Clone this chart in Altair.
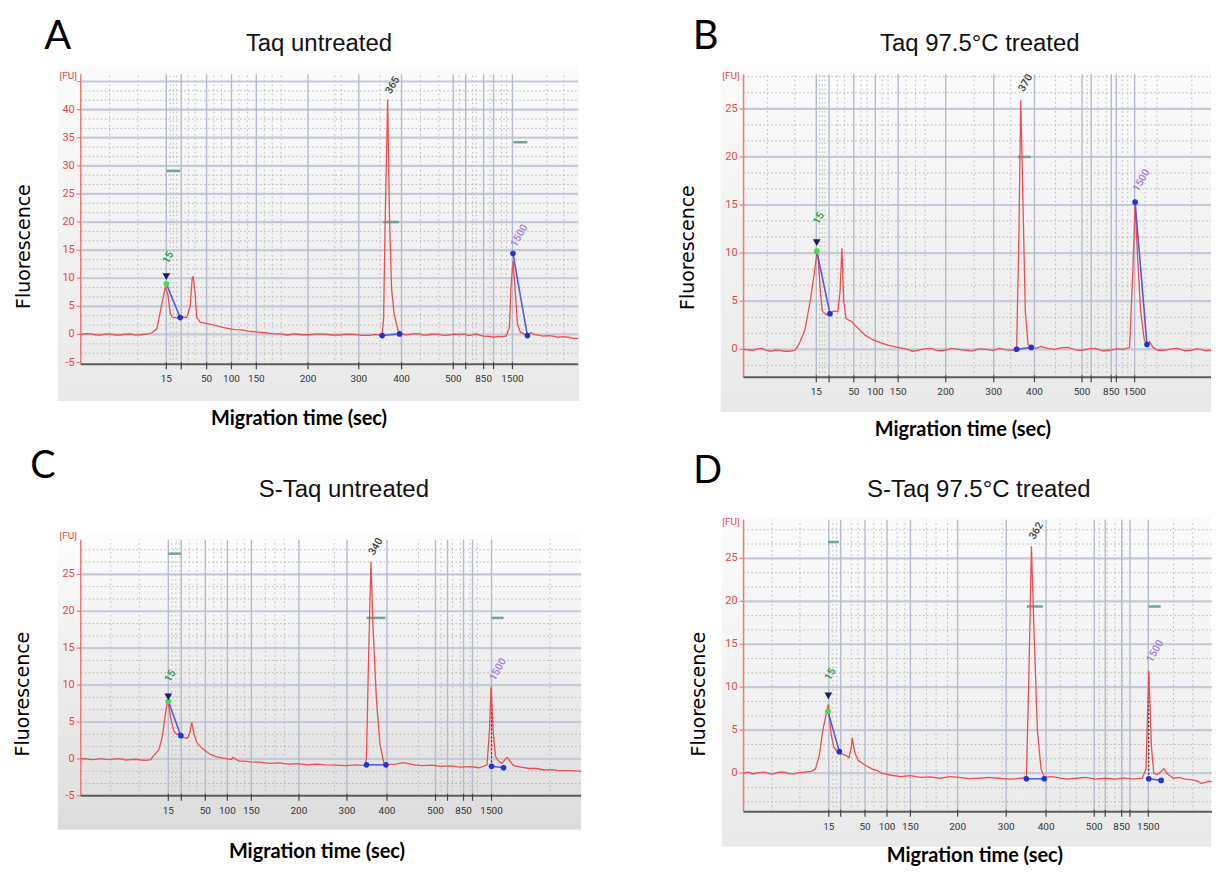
import altair as alt
import pandas as pd

LADDER = ["15", "", "50", "100", "150", "200", "300", "400", "500", "", "850", "", "1500"]

# ---------------- Panel A : Taq untreated ----------------
A_ticks = [17.2, 20.2, 25.3, 30.3, 35.3, 45.7, 55.9, 64.5, 74.9, 77.4, 81.0, 83.0, 86.8]
A_vdot = [5.8, 11.5, 18.0, 18.6, 19.3, 21.6, 23.0, 26.8, 28.3, 31.8, 33.5, 36.9, 38.5, 40.3,
          51.1, 52.4, 60.2, 68.3, 72.0, 76.1, 78.8, 79.5, 82.3, 84.6, 85.6, 93.7, 97.1]
A_trace = [(0, 0.0), (1, 0.15), (2, 0.1), (3, -0.05), (4, -0.1), (5, 0.1), (6, 0.05), (7, -0.1), (8, -0.1),
           (9, 0.05), (10, 0.1), (11, -0.1), (12, -0.05), (13.5, 0.1),
           (14.3, 0.3), (15.3, 1.0), (16.3, 5.4), (17.0, 8.4), (17.5, 7.2), (18.0, 3.7), (18.4, 3.1),
           (19.3, 2.95), (20.3, 3.1), (21.3, 3.0), (22.0, 5.1), (22.4, 9.9), (22.6, 10.4), (23.0, 7.2),
           (23.3, 3.1), (24.0, 2.2), (25.6, 1.9), (27.0, 1.6), (28.3, 1.3), (29.5, 1.1), (31.0, 0.85),
           (32.3, 0.8), (33.7, 0.6), (35.2, 0.45), (37.0, 0.3), (38.5, 0.15), (40.3, 0.05), (41.5, -0.1),
           (43.0, 0.1), (44.5, -0.05), (46.0, -0.05), (47.5, 0.1), (49.0, 0.05), (50.5, -0.1), (52.0, -0.1),
           (53.5, 0.05), (55.0, 0.0), (56.5, -0.15), (58.0, -0.15), (59.3, 0.0),
           (60.6, -0.2), (60.9, 3.0), (61.2, 20.0), (61.7, 41.8), (62.1, 20.0), (62.5, 8.0),
           (63.0, 3.7), (63.8, 0.7), (64.3, 0.2), (65.2, -0.05), (66.0, 0.0), (67.0, 0.15), (68.0, 0.1),
           (69.0, -0.1), (70.0, -0.05), (71.0, 0.1), (72.0, 0.0), (73.0, -0.15), (74.0, -0.1), (75.0, 0.05),
           (76.0, 0.0), (77.0, 0.1), (78.0, -0.2), (79.5, 0.1), (80.3, -0.15), (81.0, -0.3), (82.0, -0.35),
           (83.0, -0.5), (84.0, -0.35), (85.0, -0.4),
           (85.6, -0.2), (86.2, 1.3), (86.5, 8.4), (86.9, 13.1), (87.4, 7.2), (87.8, 1.9), (88.4, 0.4),
           (89.8, -0.2), (90.5, 0.3), (91.2, 0.0), (92.0, -0.1), (93.0, -0.3), (94.0, -0.2), (95.0, -0.3),
           (96.0, -0.5), (97.0, -0.4), (98.0, -0.5), (99.0, -0.7), (100.0, -0.7)]
A_dash = [(17.2, 20.0, 29.1), (60.8, 64.0, 20.0), (87.0, 89.8, 34.2)]
A_blue = [(17.2, 9.0, 20.0, 3.0), (60.6, -0.2, 64.1, 0.1), (86.9, 14.4, 89.8, -0.2)]
A_bdots = [(20.0, 3.0), (60.6, -0.2), (64.1, 0.1), (86.9, 14.4), (89.8, -0.2)]
A_tri = [(17.2, 10.3)]
A_green = [(17.2, 9.0)]
A_marks = []
A_plabels = [(61.7, 42.8, "365", "#3c3c3c"), (16.9, 12.6, "15", "#2e9a2e"), (86.9, 15.6, "1500", "#a878e8")]

# ---------------- Panel B : Taq 97.5°C treated ----------------
B_ticks = [15.9, 18.7, 24.1, 28.8, 33.8, 44.2, 54.7, 63.6, 74.0, 76.0, 80.4, 81.5, 85.5]
B_vdot = [5.2, 11.2, 16.6, 17.2, 17.8, 20.5, 22.1, 25.7, 27.0, 30.3, 31.6, 35.5, 37.6, 39.7,
          50.4, 58.4, 68.2, 71.6, 75.1, 77.5, 79.3, 82.8, 84.0, 87.8, 90.4, 98.0]
B_trace = [(0, 0.0), (1, -0.05), (2, -0.1), (3, 0.05), (4, 0.1), (5, -0.1), (6, -0.2), (7, -0.05), (8, -0.1),
           (9, -0.2), (10, -0.2), (11.2, -0.1), (12.1, 0.5),
           (13.4, 2.0), (14.6, 5.1), (15.5, 8.0), (16.0, 9.9), (16.3, 9.5), (16.8, 6.0), (17.2, 4.0),
           (18.0, 3.6), (18.9, 3.7), (19.7, 4.0), (20.6, 3.9), (21.1, 6.0), (21.5, 10.5), (21.9, 5.0),
           (22.4, 3.2), (23.6, 2.9), (24.8, 2.3), (26.5, 1.5), (28.2, 1.0), (29.9, 0.7), (31.7, 0.4),
           (33.8, 0.2), (35.9, 0.0), (37.0, -0.2), (38, -0.1), (39.5, 0.05), (41, 0.1), (42.5, -0.15),
           (44, -0.1), (45.5, 0.1), (47, 0.0), (48.5, -0.1), (50, -0.15), (51.5, 0.05), (53, 0.0),
           (54.5, -0.1), (56, 0.1), (57.5, -0.05), (59.3, -0.1), (59.7, 0.0), (60.2, 12.0), (60.6, 25.9),
           (61.1, 15.0), (61.6, 4.0), (62.2, 0.5), (62.9, 0.2), (64.0, 0.1), (65, 0.3), (66.5, 0.1), (68, 0.0),
           (69.5, 0.15), (71, 0.2), (72.5, -0.05), (74, -0.1), (75.5, 0.05), (77, 0.1), (78.5, -0.15),
           (80, -0.1), (81.5, 0.05), (83, 0.0), (84.4, 0.2), (85.1, 8.0), (85.6, 15.2), (86.1, 10.0),
           (86.8, 4.0), (87.6, 1.0), (88.2, 0.4), (88.8, 0.8), (89.5, 0.2), (90.5, -0.1), (92, -0.1),
           (93.5, 0.05), (95, 0.1), (96.5, -0.15), (98, -0.1), (99, 0.05), (100, 0.0), (101, -0.15), (102.2, -0.1)]
B_dash = [(59.9, 62.8, 20.0)]
B_blue = [(16.0, 10.2, 18.9, 3.7), (59.7, 0.0, 62.9, 0.2), (85.6, 15.3, 88.2, 0.5)]
B_bdots = [(18.9, 3.7), (59.7, 0.0), (62.9, 0.2), (85.6, 15.3), (88.2, 0.5)]
B_tri = [(16.0, 11.1)]
B_green = [(16.0, 10.2)]
B_marks = []
B_plabels = [(60.6, 26.8, "370", "#3c3c3c"), (15.7, 13.0, "15", "#2e9a2e"), (85.6, 16.4, "1500", "#a878e8")]

# ---------------- Panel C : S-Taq untreated ----------------
C_ticks = [17.5, 20.1, 24.9, 29.3, 34.1, 43.6, 53.2, 61.2, 70.9, 73.3, 76.5, 78.3, 82.1]
C_vdot = [6.0, 11.7, 18.2, 19.0, 19.8, 21.7, 23.2, 26.6, 28.1, 31.2, 32.7, 36.9, 38.8, 40.7,
          50.7, 67.5, 72.0, 74.3, 75.9, 77.8, 79.3, 93.8]
C_trace = [(0, 0.0), (1, 0.05), (2, -0.1), (3, -0.05), (4, 0.05), (5, -0.05), (6, -0.1), (7, 0.05), (8, 0.0),
           (9, -0.15), (10, -0.1), (11, -0.05), (12, -0.15), (13, -0.2), (14.0, -0.1),
           (14.4, 0.3), (15.6, 1.2), (16.3, 3.0), (16.9, 6.0), (17.3, 7.7), (17.5, 7.6), (18.0, 5.5),
           (18.6, 3.8), (19.2, 3.3), (19.6, 3.5), (20.0, 3.15), (20.5, 2.9), (21.3, 2.8), (21.8, 3.5),
           (22.2, 4.95), (22.6, 3.5), (23.2, 2.2), (24.3, 1.4), (25.9, 0.6), (27.0, 0.3), (28.5, 0.1),
           (30.1, -0.1), (30.4, 0.2), (31.6, -0.3), (32.8, -0.3), (33.9, -0.4), (35.8, -0.45), (37.7, -0.6),
           (39.6, -0.55), (41.5, -0.7), (43.4, -0.65), (45.3, -0.8), (47.2, -0.7), (49.0, -0.8), (51.0, -0.85),
           (53.0, -0.9), (55.0, -0.8), (56.8, -0.9), (57.1, 0.0), (57.5, 13.0), (58.0, 26.7), (58.4, 18.0),
           (59.1, 8.0), (59.8, 2.0), (60.6, -0.6), (61.0, -0.8), (62.0, -0.75), (63.0, -0.7), (64.4, -0.5),
           (65.2, -0.6), (66.7, -0.8), (68.2, -0.9), (70.1, -0.85), (72.0, -1.0), (74.0, -0.95), (75.9, -1.1),
           (77.8, -1.05), (79.7, -1.2), (81.2, -0.8), (81.7, 4.0), (82.0, 9.8),
           (82.4, 4.0), (82.9, 0.3), (83.5, -0.3), (84.2, -0.6), (84.9, 0.0), (85.2, 0.2), (85.8, -0.3),
           (86.5, -0.9), (88.0, -1.1), (89.6, -1.3), (91.1, -1.3), (92.6, -1.5), (94.1, -1.45), (95.7, -1.6),
           (97.8, -1.6), (100, -1.7)]
C_dash = [(17.5, 20.0, 27.8), (57.1, 60.9, 19.1), (82.1, 84.5, 19.1)]
C_blue = [(17.5, 7.8, 20.0, 3.15), (57.1, -0.8, 61.0, -0.8), (82.1, -1.0, 84.5, -1.2)]
C_bdots = [(20.0, 3.15), (57.1, -0.8), (61.0, -0.8), (82.1, -1.0), (84.5, -1.2)]
C_tri = [(17.5, 8.4)]
C_green = [(17.5, 7.8)]
C_marks = [(82.1, -1.0, 9.8)]
C_plabels = [(58.0, 27.6, "340", "#3c3c3c"), (17.2, 10.4, "15", "#2e9a2e"), (82.1, 10.6, "1500", "#a878e8")]

# ---------------- Panel D : S-Taq 97.5°C treated ----------------
D_ticks = [18.6, 21.2, 26.5, 31.3, 36.4, 46.7, 57.3, 66.0, 76.5, 78.9, 82.5, 84.3, 88.3]
D_vdot = [6.2, 12.3, 19.5, 20.3, 23.5, 25.0, 28.4, 30.1, 33.5, 35.2, 39.9, 42.0, 44.5,
          56.4, 69.1, 72.6, 77.6, 79.3, 81.0, 82.7, 93.8, 98.0]
D_trace = [(0, 0.0), (1, 0.1), (2, -0.1), (3.3, 0.05), (4.6, 0.1), (5.5, -0.05), (6.5, -0.1), (7.7, 0.1),
           (8.9, 0.1), (10, -0.05), (11, -0.1), (12, 0.05), (13.1, 0.1), (14.8, 0.2),
           (15.7, 0.5), (16.5, 2.0), (17.3, 5.0), (18.0, 6.8), (18.5, 8.0), (19.1, 4.5), (19.7, 3.0),
           (20.3, 2.6), (20.9, 2.5), (21.6, 2.2), (22.5, 2.0), (23.0, 1.8), (23.5, 3.0), (23.7, 4.1),
           (24.2, 2.5), (25.0, 1.5), (26.3, 1.0), (28.0, 0.5), (29.2, 0.3), (30.1, 0.0), (32.2, -0.25),
           (34.3, -0.4), (36.4, -0.3), (38.6, -0.5), (40.7, -0.45), (42.8, -0.6), (45.0, -0.4), (47.1, -0.5),
           (49.2, -0.65), (51.3, -0.6), (53.5, -0.5), (55.6, -0.6), (58.2, -0.7), (60.7, -0.6), (61.7, -0.4),
           (62.2, 10.0), (62.8, 26.4), (63.4, 16.0), (64.1, 5.0), (64.9, 0.5), (65.6, -0.5), (67.0, -0.4),
           (68.3, -0.5), (70.5, -0.7), (72.6, -0.6), (74.7, -0.5), (76.8, -0.7), (79.0, -0.6), (81.0, -0.7),
           (83.0, -0.55), (85.0, -0.7), (87.0, -0.6), (87.8, 0.5), (88.4, 11.9), (89.0, 3.0), (89.5, 0.0),
           (90.2, -0.2), (91.1, 0.2), (91.7, 0.5), (92.5, -0.1), (93.8, -0.6), (95.0, -0.5), (96.3, -0.7),
           (97.6, -0.75), (98.9, -0.9), (99.8, -1.2), (100.6, -1.1), (101.4, -0.95), (102.2, -1.0)]
D_dash = [(18.4, 20.8, 26.9), (61.8, 65.3, 19.4), (88.4, 91.0, 19.4)]
D_blue = [(18.4, 7.2, 20.9, 2.5), (61.7, -0.66, 65.6, -0.66), (88.4, -0.66, 91.1, -0.85)]
D_bdots = [(20.9, 2.5), (61.7, -0.66), (65.6, -0.66), (88.4, -0.66), (91.1, -0.85)]
D_tri = [(18.5, 9.0)]
D_green = [(18.4, 7.2)]
D_marks = [(88.4, -0.66, 11.9)]
D_plabels = [(62.8, 27.2, "362", "#3c3c3c"), (18.2, 10.8, "15", "#2e9a2e"), (88.4, 12.9, "1500", "#a878e8")]


def steps(lo, hi, step, skip_mult=None):
    out = []
    k = 0
    while True:
        v = round(lo + k * step, 3)
        if v > hi + 1e-6:
            break
        if skip_mult is None or abs(v / skip_mult - round(v / skip_mult)) > 1e-3:
            out.append(v)
        k += 1
    return out


PANELS = [
    dict(key="A", title="Taq untreated", w=499, h=291, xdom=[0, 100], ydom=[-5.3, 46.3], ytop=46.3,
         hsolid=[0, 5, 10, 15, 20, 25, 30, 35, 40, 45], hdot=steps(-5, 45, 5 / 3, 5),
         yticks=[-5, 0, 5, 10, 15, 20, 25, 30, 35, 40, 45], ylabs=[-5, 0, 5, 10, 15, 20, 25, 30, 35, 40],
         ticks=A_ticks, vdot=A_vdot, trace=A_trace, dash=A_dash, blue=A_blue, bdots=A_bdots,
         tri=A_tri, green=A_green, marks=A_marks, plabels=A_plabels,
         bg=(-23, 500, -9, 328), bgc=("#fbfbfb", "#e9e9e9"),
         letter=(-23, -25, 40), tpos=(239, -23), fu=(-4, 2), fl=(-57, 173), mig=(219, 346), anchor=True),
    dict(key="B", title="Taq 97.5°C treated", w=469, h=304, xdom=[0, 102.2], ydom=[-2.9, 28.6], ytop=28.6,
         hsolid=[0, 5, 10, 15, 20, 25], hdot=steps(-5 / 3, 28.4, 5 / 3, 5),
         yticks=[0, 5, 10, 15, 20, 25], ylabs=[0, 5, 10, 15, 20, 25],
         ticks=B_ticks, vdot=B_vdot, trace=B_trace, dash=B_dash, blue=B_blue, bdots=B_bdots,
         tri=B_tri, green=B_green, marks=B_marks, plabels=B_plabels,
         bg=(-23, 469, -10, 339), bgc=("#fbfbfb", "#e9e9e9"),
         letter=(-38, -25, 40), tpos=(237, -23), fu=(-4, 2), fl=(-56, 174), mig=(220, 357), anchor=False),
    dict(key="C", title="S-Taq untreated", w=502, h=277, xdom=[0, 100], ydom=[-5, 32.4], ytop=29.7,
         hsolid=[0, 5, 10, 15, 20, 25], hdot=steps(-5, 28.4, 5 / 3, 5),
         yticks=[-5, 0, 5, 10, 15, 20, 25], ylabs=[-5, 0, 5, 10, 15, 20, 25],
         ticks=C_ticks, vdot=C_vdot, trace=C_trace, dash=C_dash, blue=C_blue, bdots=C_bdots,
         tri=C_tri, green=C_green, marks=C_marks, plabels=C_plabels,
         bg=(-23, 502, 13, 311), bgc=("#fdfdfd", "#dcdcdc"),
         letter=(-38, -42, 38), tpos=(264, -23), fu=(-4, 16), fl=(-58, 175), mig=(237, 333), anchor=False),
    dict(key="D", title="S-Taq 97.5°C treated", w=470, h=293, xdom=[0, 102.2], ydom=[-4.5, 29.5], ytop=29.5,
         hsolid=[0, 5, 10, 15, 20, 25], hdot=steps(-10 / 3, 28.4, 5 / 3, 5),
         yticks=[0, 5, 10, 15, 20, 25], ylabs=[0, 5, 10, 15, 20, 25],
         ticks=D_ticks, vdot=D_vdot, trace=D_trace, dash=D_dash, blue=D_blue, bdots=D_bdots,
         tri=D_tri, green=D_green, marks=D_marks, plabels=D_plabels,
         bg=(-22, 469, -3, 328), bgc=("#fbfbfb", "#e9e9e9"),
         letter=(-36, -37, 38), tpos=(236, -23), fu=(-4, 2), fl=(-45, 175), mig=(232, 337), anchor=False),
]

RED = "#f24c4c"
AXRED = "#f07878"
LABRED = "#e24848"
NARROW = "Roboto, sans-serif"


def build(P):
    W, H = P["w"], P["h"]
    ymin, ytop = P["ydom"][0], P["ytop"]
    xs = alt.Scale(domain=P["xdom"], nice=False, zero=False)
    ys = alt.Scale(domain=P["ydom"], nice=False, zero=False)

    def X(f):
        return alt.X(f"{f}:Q", scale=xs, axis=None)

    def Y(f):
        return alt.Y(f"{f}:Q", scale=ys, axis=None)

    one = pd.DataFrame({"k": [0]})
    L = []
    if P["anchor"]:
        L.append(alt.Chart(one).mark_rect(color="white").encode(
            x=alt.value(-73), x2=alt.value(-72), y=alt.value(-65), y2=alt.value(-64)))
    bx0, bx1, by0, by1 = P["bg"]
    grad = alt.Gradient(gradient="linear", x1=0, x2=0, y1=0, y2=1,
                        stops=[alt.GradientStop(color=P["bgc"][0], offset=0),
                               alt.GradientStop(color=P["bgc"][1], offset=1)])
    L.append(alt.Chart(one).mark_rect(color=grad).encode(
        x=alt.value(bx0), x2=alt.value(bx1), y=alt.value(by0), y2=alt.value(by1)))

    # grid lines
    L.append(alt.Chart(pd.DataFrame({"v": P["hdot"]})).mark_rule(
        color="#b4b4b4", strokeWidth=1, strokeDash=[1.5, 2.5]).encode(
        y=Y("v"), x=alt.value(0), x2=alt.value(W)))
    vd = pd.DataFrame({"x": P["vdot"], "y0": ymin, "y1": ytop})
    L.append(alt.Chart(vd).mark_rule(color="#b8b8b8", strokeWidth=1, strokeDash=[1.5, 3]).encode(
        x=X("x"), y=Y("y0"), y2=alt.Y2("y1")))
    L.append(alt.Chart(pd.DataFrame({"v": P["hsolid"]})).mark_rule(
        color="#c4cad8", strokeWidth=2.2).encode(y=Y("v"), x=alt.value(0), x2=alt.value(W)))
    vs = pd.DataFrame({"x": P["ticks"], "y0": ymin, "y1": ytop})
    L.append(alt.Chart(vs).mark_rule(color="#b3bbcc", strokeWidth=1.4).encode(
        x=X("x"), y=Y("y0"), y2=alt.Y2("y1")))

    # red y axis
    L.append(alt.Chart(pd.DataFrame({"x": [0], "y0": [ymin], "y1": [ytop]})).mark_rule(
        color=AXRED, strokeWidth=1.5).encode(x=X("x"), y=Y("y0"), y2=alt.Y2("y1")))
    L.append(alt.Chart(pd.DataFrame({"v": P["yticks"]})).mark_rule(color=AXRED, strokeWidth=1.2).encode(
        y=Y("v"), x=alt.value(-4), x2=alt.value(0)))
    L.append(alt.Chart(pd.DataFrame({"v": P["ylabs"], "t": [str(v) for v in P["ylabs"]]})).mark_text(
        color=LABRED, font=NARROW, fontSize=11, align="right", baseline="middle", dx=-6).encode(
        y=Y("v"), x=alt.value(0), text="t:N"))
    L.append(alt.Chart(one).mark_text(text="[FU]", color=LABRED, font=NARROW, fontSize=10,
                                      align="right", baseline="middle").encode(
        x=alt.value(P["fu"][0]), y=alt.value(P["fu"][1])))

    # x axis
    L.append(alt.Chart(pd.DataFrame({"v": [ymin]})).mark_rule(color="#5c5c5c", strokeWidth=2).encode(
        y=Y("v"), x=alt.value(0), x2=alt.value(W)))
    L.append(alt.Chart(pd.DataFrame({"x": P["ticks"]})).mark_rule(color="#444444", strokeWidth=1.2).encode(
        x=X("x"), y=alt.value(H - 2), y2=alt.value(H + 5)))
    L.append(alt.Chart(pd.DataFrame({"x": P["ticks"], "t": LADDER})).mark_text(
        color="#333333", font=NARROW, fontSize=10, baseline="middle").encode(
        x=X("x"), y=alt.value(H + 15), text="t:N"))

    # annotations of the electropherogram
    L.append(alt.Chart(pd.DataFrame(P["dash"], columns=["x0", "x1", "y"])).mark_rule(
        color="#6fa596", strokeWidth=2.5).encode(x=X("x0"), x2=alt.X2("x1"), y=Y("y")))
    if P["marks"]:
        L.append(alt.Chart(pd.DataFrame(P["marks"], columns=["x", "y0", "y1"])).mark_rule(
            color="#333333", strokeWidth=1.2, strokeDash=[2, 2]).encode(x=X("x"), y=Y("y0"), y2=alt.Y2("y1")))
    L.append(alt.Chart(pd.DataFrame(P["trace"], columns=["x", "y"])).mark_line(
        color=RED, strokeWidth=1.3).encode(x=X("x"), y=Y("y")))
    L.append(alt.Chart(pd.DataFrame(P["blue"], columns=["x0", "y0", "x1", "y1"])).mark_rule(
        color="#4f5ee6", strokeWidth=1.6).encode(x=X("x0"), y=Y("y0"), x2=alt.X2("x1"), y2=alt.Y2("y1")))
    L.append(alt.Chart(pd.DataFrame(P["bdots"], columns=["x", "y"])).mark_point(
        filled=True, color="#1f33d8", size=32, opacity=1).encode(x=X("x"), y=Y("y")))
    L.append(alt.Chart(pd.DataFrame(P["green"], columns=["x", "y"])).mark_point(
        filled=True, color="#3ee03e", size=32, opacity=1).encode(x=X("x"), y=Y("y")))
    L.append(alt.Chart(pd.DataFrame(P["tri"], columns=["x", "y"])).mark_point(
        filled=True, shape="triangle-down", color="#1c1c66", size=60, opacity=1).encode(x=X("x"), y=Y("y")))
    L.append(alt.Chart(pd.DataFrame(P["plabels"], columns=["x", "y", "t", "c"])).mark_text(
        angle=300, align="left", baseline="middle", fontSize=10.5, font=NARROW, fontWeight=500, dx=1).encode(
        x=X("x"), y=Y("y"), text="t:N", color=alt.Color("c:N", scale=None)))

    # texts around the panel
    L.append(alt.Chart(one).mark_text(text=P["key"], font="Lato", fontSize=P["letter"][2], color="black",
                                      align="center", baseline="alphabetic").encode(
        x=alt.value(P["letter"][0]), y=alt.value(P["letter"][1])))
    L.append(alt.Chart(one).mark_text(text=P["title"], font="Liberation Sans, Arial, sans-serif", fontSize=24,
                                      color="#111111", align="center", baseline="alphabetic").encode(
        x=alt.value(P["tpos"][0]), y=alt.value(P["tpos"][1])))
    L.append(alt.Chart(one).mark_text(text="Fluorescence", font="DejaVu Sans", fontSize=19, color="black",
                                      angle=270, align="center", baseline="middle").encode(
        x=alt.value(P["fl"][0]), y=alt.value(P["fl"][1])))
    L.append(alt.Chart(one).mark_text(text="Migration time (sec)", font="Lato", fontSize=20, fontWeight="bold",
                                      color="black", align="center", baseline="middle").encode(
        x=alt.value(P["mig"][0]), y=alt.value(P["mig"][1])))

    return alt.layer(*L).properties(width=W, height=H)


charts = [build(P) for P in PANELS]
chart = alt.concat(*charts, columns=2, spacing={"row": 143, "column": 163}, bounds="flush").properties(
    padding=0).configure_view(stroke=None)

chart.save("out.html", embed_options={"renderer": "svg", "actions": False})
